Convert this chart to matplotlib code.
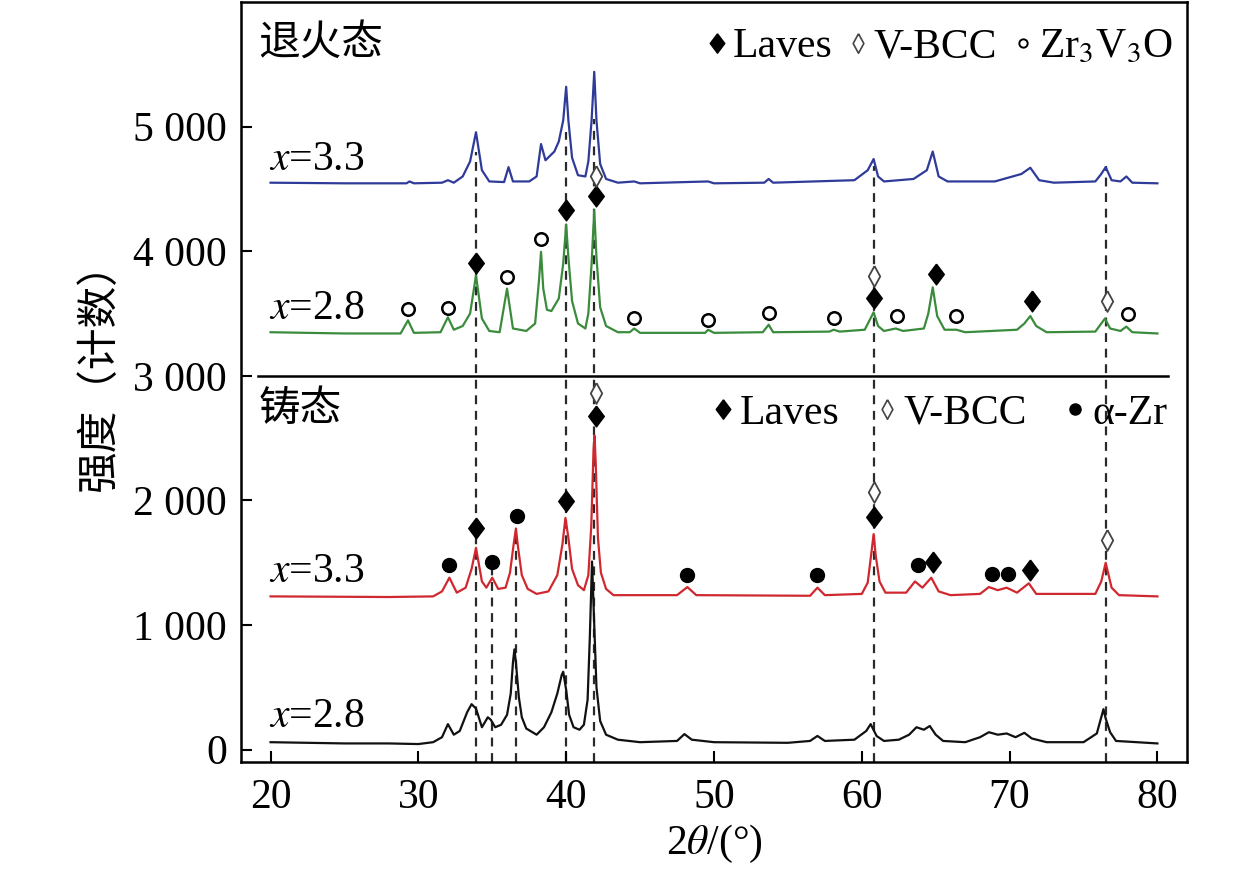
import matplotlib
matplotlib.use('Agg')
import matplotlib.pyplot as plt
from matplotlib.lines import Line2D
from matplotlib.ticker import FuncFormatter

plt.rcParams['font.family'] = ['Liberation Serif', 'Noto Sans CJK SC', 'DejaVu Sans']
plt.rcParams['mathtext.fontset'] = 'stix'

# 2theta / intensity
ac28_x = [20, 25, 28, 30, 31, 31.6, 32.0, 32.4, 32.8, 33.3, 33.6, 33.9, 34.3, 34.7, 34.9, 35.2, 35.6,
          36.0, 36.25, 36.4, 36.5, 36.6, 36.8, 37.0, 37.3, 38.0, 38.5, 39.0, 39.4, 39.7, 39.8, 40.0,
          40.2, 40.5, 40.9, 41.2, 41.45, 41.6, 41.75, 41.9, 42.05, 42.3, 42.7, 43.5, 45, 47.5, 48.0,
          48.5, 50, 55, 56.5, 57.0, 57.5, 59.5, 60.3, 60.6, 61.0, 61.5, 62.5, 63.2, 63.7, 64.2, 64.6,
          65.0, 65.5, 67.0, 68.0, 68.6, 69.2, 69.8, 70.4, 71.0, 71.5, 72.5, 75.0, 75.9, 76.2, 76.35,
          76.5, 76.8, 77.2, 80]
ac28_y = [60, 50, 50, 45, 60, 100, 205, 120, 150, 300, 365, 330, 180, 260, 240, 180, 200,
          280, 450, 700, 805, 700, 420, 260, 170, 120, 180, 300, 450, 600, 625, 480,
          280, 180, 160, 200, 400, 900, 1510, 1000, 500, 230, 120, 80, 60, 70, 125,
          80, 60, 55, 70, 110, 70, 80, 150, 205, 110, 70, 80, 120, 180, 160, 190,
          120, 70, 60, 100, 140, 120, 130, 100, 135, 90, 60, 60, 130, 260, 325,
          250, 140, 70, 50]

ac33_x = [20, 28, 31, 31.6, 32.1, 32.6, 33.2, 33.6, 33.9, 34.3, 34.6, 35.0, 35.4, 35.9, 36.2, 36.45,
          36.6, 36.75, 37.0, 37.4, 38.0, 38.8, 39.4, 39.75, 39.95, 40.15, 40.4, 40.8, 41.2, 41.5, 41.7,
          41.85, 41.92, 42.0, 42.15, 42.35, 42.7, 43.2, 47.5, 48.2, 48.8, 56.5, 57.0, 57.5, 60.0, 60.4,
          60.65, 60.8, 60.95, 61.2, 61.6, 63.0, 63.6, 64.1, 64.7, 65.2, 66.0, 68.0, 68.6, 69.2, 69.8,
          70.5, 71.3, 71.8, 75.8, 76.2, 76.5, 76.9, 77.4, 80]
ac33_y = [1230, 1225, 1230, 1270, 1380, 1260, 1300, 1450, 1620, 1350, 1300, 1380, 1290, 1300, 1420, 1650,
          1775, 1620, 1400, 1290, 1250, 1270, 1400, 1650, 1860, 1700, 1450, 1320, 1280, 1400, 1800,
          2400, 2520, 2300, 1700, 1420, 1290, 1240, 1240, 1305, 1240, 1235, 1300, 1240, 1250, 1340,
          1580, 1730, 1550, 1350, 1260, 1260, 1350, 1300, 1380, 1270, 1240, 1250, 1305, 1280, 1300,
          1260, 1335, 1250, 1250, 1350, 1500, 1300, 1240, 1230]

an28_x = [20, 25, 28.8, 29.3, 29.7, 31.5, 32.0, 32.4, 33.0, 33.5, 33.9, 34.3, 34.8, 35.5, 36.0, 36.4,
          37.3, 37.9, 38.15, 38.3, 38.45, 38.7, 39.0, 39.5, 39.8, 40.0, 40.15, 40.4, 40.8, 41.3, 41.5,
          41.72, 41.9, 42.05, 42.3, 42.7, 43.5, 44.3, 44.6, 45.0, 49.4, 49.6, 50, 53.3, 53.7, 54.0,
          57.8, 58.1, 58.5, 60.2, 60.5, 60.8, 61.1, 61.5, 62.3, 62.8, 64.2, 64.5, 64.8, 65.1, 65.6,
          66.4, 67, 70.5, 71.0, 71.4, 71.8, 72.5, 75.8, 76.2, 76.45, 76.8, 77.5, 77.9, 78.3, 80]
an28_y = [3350, 3340, 3340, 3445, 3345, 3350, 3470, 3370, 3400, 3500, 3805, 3460, 3360, 3350, 3700, 3380,
          3360, 3420, 3750, 3995, 3700, 3530, 3520, 3620, 3900, 4215, 3950, 3600, 3420, 3380, 3500,
          3900, 4330, 3950, 3550, 3400, 3350, 3350, 3380, 3345, 3345, 3370, 3345, 3350, 3410, 3350,
          3355, 3370, 3355, 3370, 3440, 3510, 3400, 3360, 3380, 3360, 3380, 3500, 3710, 3480, 3370,
          3370, 3350, 3370, 3420, 3480, 3400, 3350, 3355, 3420, 3460, 3380, 3360, 3395, 3350, 3340]

an33_x = [20, 25, 29.2, 29.4, 29.7, 31.6, 32.0, 32.4, 33.0, 33.5, 33.9, 34.3, 34.8, 35.8, 36.1, 36.4,
          37.5, 38.0, 38.3, 38.6, 39.2, 39.5, 39.8, 40.0, 40.15, 40.4, 40.8, 41.3, 41.5, 41.72, 41.9,
          42.05, 42.3, 42.7, 43.5, 44.6, 45, 49.6, 50, 53.4, 53.7, 54.0, 59.5, 60.4, 60.8, 61.1, 61.5,
          63.5, 64.4, 64.8, 65.2, 65.8, 69.0, 70.8, 71.4, 72.0, 73, 75.8, 76.2, 76.5, 76.9, 77.5, 77.9,
          78.3, 80]
an33_y = [4550, 4545, 4545, 4560, 4545, 4550, 4570, 4550, 4600, 4720, 4955, 4650, 4560, 4555, 4675, 4560,
          4560, 4600, 4860, 4730, 4800, 4880, 5050, 5320, 5050, 4750, 4610, 4600, 4720, 5050, 5440,
          5050, 4700, 4580, 4550, 4560, 4545, 4560, 4545, 4550, 4580, 4550, 4570, 4650, 4740, 4600, 4560,
          4580, 4650, 4800, 4600, 4560, 4560, 4620, 4670, 4570, 4550, 4560, 4620, 4675, 4570, 4560, 4600,
          4550, 4545]

# phase markers (2theta, height)
laves_x = [33.9, 40.0, 42.0, 60.8, 65.0, 71.5, 33.9, 40.0, 42.0, 60.8, 64.8, 71.4]
laves_y = [3904, 4328, 4440, 3624, 3816, 3600, 1776, 1992, 2680, 1864, 1504, 1440]
vbcc_x = [42.0, 60.8, 76.6, 42.0, 60.8, 76.6]
vbcc_y = [4600, 3800, 3600, 2864, 2064, 1680]
zro_x = [29.3, 32.0, 36.0, 38.3, 44.6, 49.6, 53.7, 58.1, 62.4, 66.4, 78.0]
zro_y = [3536, 3544, 3792, 4096, 3464, 3448, 3504, 3464, 3480, 3480, 3496]
azr_x = [32.1, 34.95, 36.7, 48.15, 57.0, 63.8, 68.8, 69.9]
azr_y = [1480, 1504, 1872, 1400, 1400, 1480, 1408, 1408]

# reference dashed lines (2theta, top)
ref_x = [33.9, 35.0, 36.6, 40.0, 41.9, 60.8, 76.5]
ref_top = [4800, 1540, 1760, 4960, 5060, 4680, 4680]

yticks = [0, 1000, 2000, 3000, 4000, 5000]
xticks = [20, 30, 40, 50, 60, 70, 80]

fig = plt.figure(figsize=(12.59, 8.75), dpi=100)
ax = fig.add_axes([0.1914, 0.129, 0.7514, 0.8687])

FS = 30
for x, t in zip(ref_x, ref_top):
    ax.plot([x, x], [-100, t], color='#2a2a2a', lw=1.6, ls=(0, (4, 3)), zorder=1)

ax.plot(ac28_x, ac28_y, color='#111111', lw=1.6, zorder=2)
ax.plot(ac33_x, ac33_y, color='#d0282f', lw=1.6, zorder=2)
ax.plot(an28_x, an28_y, color='#3a8c3c', lw=1.6, zorder=2)
ax.plot(an33_x, an33_y, color='#2f3b98', lw=1.6, zorder=2)

ax.axhline(3000, xmin=0.018, xmax=0.98, color='black', lw=1.8)

dia_fat = [(0, 1), (0.75, 0), (0, -1), (-0.75, 0), (0, 1)]
dia_thin = [(0, 1), (0.55, 0), (0, -1), (-0.55, 0), (0, 1)]
ax.plot(laves_x, laves_y, ls='none', marker=dia_fat, ms=15, color='black', zorder=4)
ax.plot(vbcc_x, vbcc_y, ls='none', marker=dia_thin, ms=15, mfc='white', mec='#444444', mew=1.3, zorder=4)
ax.plot(zro_x, zro_y, ls='none', marker='o', ms=9, mfc='none', mec='black', mew=1.8, zorder=4)
ax.plot(azr_x, azr_y, ls='none', marker='o', ms=10, color='black', zorder=4)

h_laves = Line2D([], [], ls='none', marker=dia_fat, ms=14, color='black')
h_vbcc = Line2D([], [], ls='none', marker=dia_thin, ms=14, mfc='white', mec='#444444', mew=1.2)
h_zro = Line2D([], [], ls='none', marker='o', ms=6, mfc='none', mec='black', mew=1.4)
h_azr = Line2D([], [], ls='none', marker='o', ms=8, color='black')

leg1 = ax.legend([h_laves, h_vbcc, h_zro], ['Laves', 'V-BCC', 'Zr$_3$V$_3$O'],
                 loc='center left', bbox_to_anchor=(49.5, 5640), bbox_transform=ax.transData,
                 ncol=3, frameon=False, fontsize=FS, handlelength=0.5, handletextpad=0.12,
                 columnspacing=0.38, borderpad=0, borderaxespad=0)
ax.add_artist(leg1)
ax.legend([h_laves, h_vbcc, h_azr], ['Laves', 'V-BCC', 'α-Zr'], loc='center left',
          bbox_to_anchor=(49.9, 2696), bbox_transform=ax.transData, ncol=3, frameon=False,
          fontsize=FS, handlelength=0.5, handletextpad=0.15, columnspacing=0.9,
          borderpad=0, borderaxespad=0)

ax.text(19.2, 5664, '退火态', fontsize=FS, va='center', ha='left')
ax.text(19.2, 2720, '铸态', fontsize=FS, va='center', ha='left')
ax.text(19.9, 4736, '$x$=3.3', fontsize=FS, va='center', ha='left')
ax.text(19.9, 3536, '$x$=2.8', fontsize=FS, va='center', ha='left')
ax.text(19.9, 1424, '$x$=3.3', fontsize=FS, va='center', ha='left')
ax.text(19.9, 264, '$x$=2.8', fontsize=FS, va='center', ha='left')

ax.set_xlim(18, 82)
ax.set_ylim(-100, 6000)
ax.set_xticks(xticks)
ax.set_yticks(yticks)
ax.yaxis.set_major_formatter(FuncFormatter(lambda v, p: f'{int(v):,}'.replace(',', ' ')))
ax.tick_params(direction='in', length=8, width=1.5, labelsize=FS)
ax.tick_params(axis='x', pad=12)
ax.tick_params(axis='y', pad=10)
for s in ax.spines.values():
    s.set_linewidth(1.8)

ax.set_xlabel('2$\\theta$/(°)', fontsize=FS, labelpad=4)
ax.set_ylabel('强度（计数）', fontsize=FS, labelpad=6)
ax.yaxis.set_label_coords(-0.128, 0.52)

fig.savefig('out.png', dpi=100)
